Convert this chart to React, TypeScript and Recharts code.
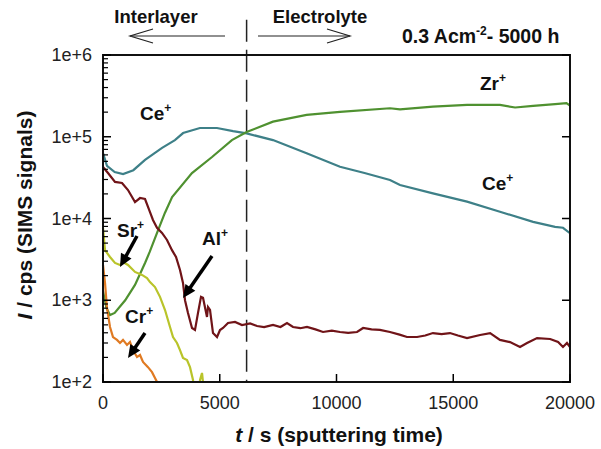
import React from 'react';
import { LineChart, Line, XAxis, YAxis, ReferenceLine } from 'recharts';

// SIMS depth profile, 0.3 A/cm2 - 5000 h
// each series: [sputtering time (s), intensity (cps)]
const cePoints = [
  [0, 63000], [170, 44000], [500, 37000], [860, 35000], [1300, 39000], [1800, 52000],
  [2530, 73000], [3080, 91000], [3430, 111000], [4150, 128000], [4880, 128000],
  [5570, 117000], [6150, 110000], [7280, 91000], [8720, 62700], [10150, 43000],
  [11200, 36000], [12290, 29600], [12720, 25700], [14130, 20300], [15590, 16100],
  [17000, 12100], [18420, 9100], [19360, 7900], [19700, 7700], [20000, 6600],
];

const zrPoints = [
  [0, 1300], [150, 800], [300, 660], [500, 700], [950, 1000], [1370, 1540],
  [1800, 2860], [2000, 3900], [2360, 7200], [2650, 11700], [2960, 18300],
  [3810, 36000], [4670, 56500], [5520, 91000], [6150, 114000], [7280, 153000],
  [8720, 185000], [10150, 202000], [12290, 223000], [12720, 216000], [14130, 233000],
  [15590, 245000], [17000, 245000], [17650, 228000], [18420, 238000], [19360, 250000],
  [19850, 258000], [20000, 240000],
];

const alPoints = [
  [0, 42700], [214, 36000], [514, 28000], [814, 27200], [1071, 22300], [1371, 15900],
  [1585, 17800], [1800, 17300], [2013, 12000], [2140, 9600], [2313, 7700], [2527, 6650],
  [2741, 5460], [2955, 4100], [3127, 3380], [3298, 2350], [3426, 1630], [3512, 1000],
  [3640, 700], [3812, 458], [3940, 433], [4069, 700], [4197, 1100], [4283, 1070],
  [4454, 624], [4497, 826], [4583, 760], [4711, 397], [4883, 355], [5011, 433],
  [5140, 458], [5354, 527], [5654, 542], [5953, 498], [6300, 520], [6596, 484],
  [6900, 470], [7281, 498], [7600, 470], [7880, 527], [8138, 471], [8450, 455],
  [8737, 471], [9100, 440], [9423, 409], [9800, 425], [10150, 409], [10500, 400],
  [10880, 409], [11140, 458], [11500, 440], [11860, 433], [12290, 409], [12700, 380],
  [13020, 355], [13450, 355], [13800, 370], [14130, 397], [14500, 385], [14860, 397],
  [15200, 370], [15590, 345], [16150, 376], [16580, 397], [17000, 327], [17430, 308],
  [17860, 268], [18160, 300], [18590, 345], [19150, 336], [19490, 308], [19700, 268],
  [19870, 300], [20000, 268],
];

const srPoints = [
  [0, 7700], [86, 4100], [300, 3380], [514, 2860], [728, 2700], [857, 2940],
  [1071, 2700], [1371, 2220], [1670, 2040], [1885, 1870], [2013, 1670], [2227, 1450],
  [2441, 1100], [2656, 760], [2870, 471], [2998, 355], [3169, 300], [3298, 246],
  [3426, 197], [3598, 186], [3726, 152], [3855, 106], [3920, 60], [4130, 60],
  [4155, 106], [4240, 129], [4283, 100], [4330, 60],
];

const crPoints = [
  [0, 2700], [86, 1630], [171, 804], [300, 471], [428, 355], [600, 327], [728, 300],
  [857, 327], [1028, 284], [1156, 308], [1285, 246], [1456, 202], [1585, 214],
  [1713, 176], [1927, 152], [2099, 132], [2227, 112], [2313, 100], [2400, 80],
];

const xTicks = [0, 5000, 10000, 15000, 20000];
const yMajor = [100, 1000, 10000, 100000, 1000000];
const yMinor = [
  200, 300, 400, 500, 600, 700, 800, 900,
  2000, 3000, 4000, 5000, 6000, 7000, 8000, 9000,
  20000, 30000, 40000, 50000, 60000, 70000, 80000, 90000,
  200000, 300000, 400000, 500000, 600000, 700000, 800000, 900000,
];
const yLabels = ['1e+2', '1e+3', '1e+4', '1e+5', '1e+6'];
const boundaryTime = 6150;

const toRows = (pts: number[][]) => pts.map(([t, v]) => ({ t, v }));

const W = 601;
const H = 449;
const PLOT = { left: 103, top: 55, right: 570, bottom: 382 };
const FONT = '"Liberation Sans", Arial, sans-serif';

// same mapping as the chart axes, used for the inward tick marks of the frame
const px = (t: number) => PLOT.left + (t / 20000) * (PLOT.right - PLOT.left);
const py = (v: number) => PLOT.bottom - ((Math.log10(v) - 2) / 4) * (PLOT.bottom - PLOT.top);

const YTick = (props: any) => {
  const { y, payload } = props;
  const label = yLabels[yMajor.indexOf(payload.value)];
  return (
    <text x={92} y={y + 6} textAnchor="end" fontSize={18} fill="#222" fontFamily={FONT}>{label}</text>
  );
};

const XTick = (props: any) => {
  const { x, payload } = props;
  return (
    <text x={x} y={409} textAnchor="middle" fontSize={18} fill="#222" fontFamily={FONT}>{payload.value}</text>
  );
};

// thick black pointer arrow with filled head
function Pointer({ x1, y1, x2, y2 }: { x1: number; y1: number; x2: number; y2: number }) {
  const dx = x2 - x1;
  const dy = y2 - y1;
  const l = Math.hypot(dx, dy);
  const ux = dx / l;
  const uy = dy / l;
  const hl = 13;
  const hw = 6;
  const bx = x2 - ux * hl;
  const by = y2 - uy * hl;
  return (
    <g>
      <line x1={x1} y1={y1} x2={bx + ux * 2} y2={by + uy * 2} stroke="#000" strokeWidth={3.5} />
      <polygon
        points={`${x2},${y2} ${bx - uy * hw},${by + ux * hw} ${bx + uy * hw},${by - ux * hw}`}
        fill="#000"
      />
    </g>
  );
}

function Ion({ x, y, name }: { x: number; y: number; name: string }) {
  return (
    <text x={x} y={y} fontSize={19} fontWeight="bold" fill="#111" fontFamily={FONT}>
      {name}
      <tspan dy={-8} fontSize={12}>+</tspan>
    </text>
  );
}

export default function App() {
  const { left, top, right, bottom } = PLOT;
  return (
    <div style={{ position: 'absolute', left: 0, top: 0, width: W, height: H }}>
      <LineChart
        width={W}
        height={H}
        margin={{ top, right: W - right, left: 0, bottom: 0 }}
      >
        <XAxis
          type="number"
          dataKey="t"
          domain={[0, 20000]}
          ticks={xTicks}
          height={H - bottom}
          axisLine={false}
          tickLine={false}
          tick={XTick}
        />
        <YAxis
          type="number"
          dataKey="v"
          scale="log"
          domain={[100, 1000000]}
          allowDataOverflow
          ticks={yMajor}
          width={left}
          axisLine={false}
          tickLine={false}
          tick={YTick}
        />
        <ReferenceLine
          segment={[{ x: boundaryTime, y: 2700000 }, { x: boundaryTime, y: 100 }]}
          ifOverflow="visible"
          stroke="#222"
          strokeWidth={1.5}
          strokeDasharray="22 8"
        />
        <Line data={toRows(cePoints)} dataKey="v" type="linear" stroke="#3e8088" strokeWidth={2.2} dot={false} isAnimationActive={false} />
        <Line data={toRows(zrPoints)} dataKey="v" type="linear" stroke="#4f9130" strokeWidth={2.2} dot={false} isAnimationActive={false} />
        <Line data={toRows(alPoints)} dataKey="v" type="linear" stroke="#701418" strokeWidth={2.2} dot={false} isAnimationActive={false} />
        <Line data={toRows(srPoints)} dataKey="v" type="linear" stroke="#b9c42a" strokeWidth={2.2} dot={false} isAnimationActive={false} />
        <Line data={toRows(crPoints)} dataKey="v" type="linear" stroke="#e07a22" strokeWidth={2.2} dot={false} isAnimationActive={false} />
      </LineChart>

      {/* plot frame as a bordered box over the chart */}
      <div
        style={{
          position: 'absolute',
          left: left - 1,
          top: top - 1,
          width: right - left + 2,
          height: bottom - top + 2,
          border: '2px solid #111',
          boxSizing: 'border-box',
          pointerEvents: 'none',
        }}
      />

      <svg
        width={W}
        height={H}
        style={{ position: 'absolute', left: 0, top: 0, pointerEvents: 'none' }}
        fontFamily={FONT}
      >
        {/* inward ticks */}
        {yMajor.map((v) => (
          <path
            key={`M${v}`}
            d={`M${left},${py(v)}L${left + 8},${py(v)}M${right - 8},${py(v)}L${right},${py(v)}`}
            stroke="black"
            strokeWidth={1.5}
          />
        ))}
        {yMinor.map((v) => (
          <path key={`m${v}`} d={`M${left},${py(v)}L${left + 5},${py(v)}`} stroke="black" strokeWidth={1.2} />
        ))}
        {xTicks.map((t) => (
          <path key={`x${t}`} d={`M${px(t)},${bottom}L${px(t)},${bottom - 8}`} stroke="black" strokeWidth={1.5} />
        ))}

        {/* region headers */}
        <text x={156} y={23} textAnchor="middle" fontSize={18.5} fontWeight="bold" fill="#111">Interlayer</text>
        <line x1={225} y1={36} x2={130} y2={36} stroke="#222" strokeWidth={1.2} />
        <polyline points="153,29 130,36 153,43" fill="none" stroke="#222" strokeWidth={1.2} />
        <text x={320} y={23} textAnchor="middle" fontSize={18.5} fontWeight="bold" fill="#111">Electrolyte</text>
        <line x1={258} y1={36} x2={350} y2={36} stroke="#222" strokeWidth={1.2} />
        <polyline points="327,29 350,36 327,43" fill="none" stroke="#222" strokeWidth={1.2} />
        <text x={402} y={43} fontSize={19.5} fontWeight="bold" fill="#111">
          0.3 Acm<tspan dy={-8} fontSize={12}>-2</tspan>
          <tspan dy={8}>- 5000 h</tspan>
        </text>

        {/* ion labels */}
        <Ion x={140} y={120} name="Ce" />
        <Ion x={480} y={90} name="Zr" />
        <Ion x={482} y={190} name="Ce" />
        <Ion x={117} y={237} name="Sr" />
        <Ion x={202} y={245} name="Al" />
        <Ion x={125} y={323} name="Cr" />
        <Pointer x1={137} y1={236} x2={120} y2={267} />
        <Pointer x1={212} y1={256} x2={183} y2={298} />
        <Pointer x1={145} y1={333} x2={128} y2={358} />

        {/* axis titles */}
        <text x={339} y={442} textAnchor="middle" fontSize={21} fontWeight="bold" fill="#111">
          <tspan fontStyle="italic">t</tspan> / s (sputtering time)
        </text>
        <text
          x={32}
          y={215}
          textAnchor="middle"
          fontSize={21}
          fontWeight="bold"
          fill="#111"
          transform="rotate(-90 32 215)"
        >
          <tspan fontStyle="italic">I</tspan> / cps (SIMS signals)
        </text>
      </svg>
    </div>
  );
}
